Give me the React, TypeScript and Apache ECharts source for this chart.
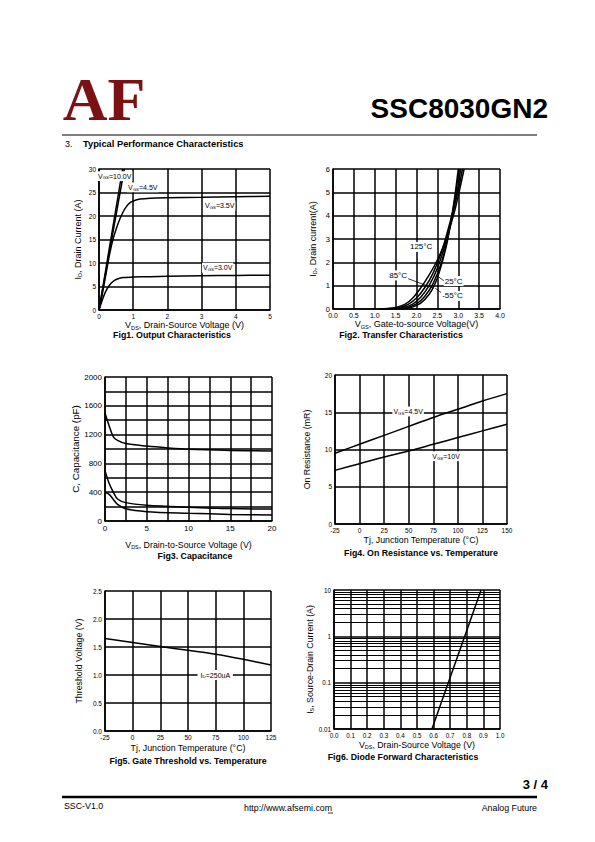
import React, { useEffect, useRef } from "react";
import * as echarts from "echarts";

const FONT = "Liberation Sans";
const BLACK = "#000";

// ---------- Fig1: Output Characteristics (VDS [V], ID [A])
const fig1Vgs100 = [[0, 0], [0.69, 30]];
const fig1Vgs45 = [[0, 0], [0.74, 30]];
const fig1Vgs35 = [[0, 0], [0.1, 3.5], [0.2, 7.5], [0.3, 11.5], [0.4, 14.8], [0.5, 17.2], [0.6, 19.2], [0.7, 20.8], [0.8, 22], [0.9, 22.8], [1.0, 23.2], [1.2, 23.6], [1.5, 23.8], [2, 23.9], [3, 24.0], [4, 24.1], [5, 24.2]];
const fig1Vgs30 = [[0, 0], [0.1, 2.2], [0.2, 4], [0.3, 5.2], [0.4, 6], [0.5, 6.5], [0.7, 6.9], [1, 7.0], [1.5, 7.1], [2, 7.2], [3, 7.3], [4, 7.35], [5, 7.4]];
const fig1Labels = [
  { x: 0.46, y: 28.5, text: "V{s|GS}=10.0V" },
  { x: 1.28, y: 26.1, text: "V{s|GS}=4.5V" },
  { x: 3.53, y: 22.2, text: "V{s|GS}=3.5V" },
  { x: 3.47, y: 9.0, text: "V{s|GS}=3.0V" },
];

// ---------- Fig2: Transfer Characteristics (VGS [V], ID [A])
const fig2T125 = [[1.1, 0], [1.3, 0.02], [1.5, 0.07], [1.72, 0.2], [1.9, 0.45], [2.1, 0.9], [2.3, 1.45], [2.5, 2.1], [2.7, 2.95], [2.9, 4.1], [3.14, 6]];
const fig2T85 = [[1.2, 0], [1.4, 0.02], [1.6, 0.07], [1.8, 0.2], [2.0, 0.47], [2.2, 0.92], [2.4, 1.55], [2.6, 2.45], [2.8, 3.7], [3.0, 5.1], [3.1, 6]];
const fig2T25 = [[1.3, 0], [1.5, 0.02], [1.7, 0.07], [1.9, 0.2], [2.1, 0.5], [2.3, 1.0], [2.5, 1.75], [2.7, 2.85], [2.9, 4.35], [3.06, 6]];
const fig2T0 = [[1.4, 0], [1.6, 0.02], [1.8, 0.07], [2.0, 0.22], [2.2, 0.55], [2.4, 1.1], [2.6, 2.0], [2.8, 3.5], [2.95, 5.1], [3.02, 6]];
const fig2Tm55 = [[1.5, 0], [1.7, 0.02], [1.9, 0.08], [2.1, 0.25], [2.3, 0.62], [2.45, 1.1], [2.6, 1.9], [2.75, 3.0], [2.9, 4.6], [3.0, 6]];
const fig2Labels = [
  { x: 2.11, y: 2.66, text: "125°C" },
  { x: 1.56, y: 1.44, text: "85°C" },
  { x: 2.89, y: 1.2, text: "25°C" },
  { x: 2.86, y: 0.56, text: "-55°C" },
];
const fig2Leaders = [
  [[1.8, 1.3], [2.41, 0.89]],
  [[2.52, 1.39], [2.66, 1.2]],
  [[2.45, 0.89], [2.64, 0.64]],
];

// ---------- Fig3: Capacitance (VDS [V], C [pF])
const fig3Ciss = [[0, 1500], [0.5, 1320], [1, 1170], [1.5, 1120], [2.5, 1075], [5, 1040], [7.5, 1015], [10, 996], [15, 980], [20, 972]];
const fig3Coss = [[0, 700], [0.5, 520], [1, 400], [1.5, 305], [2.5, 255], [5, 220], [10, 192], [15, 172], [20, 165]];
const fig3Crss = [[0, 400], [0.5, 370], [1, 300], [1.5, 230], [2.5, 170], [5, 130], [10, 108], [15, 92], [20, 85]];

// ---------- Fig4: On Resistance vs Temperature (Tj [°C], R [mΩ])
const fig4Vgs45 = [[-25, 9.5], [0, 10.7], [25, 11.9], [50, 13.1], [75, 14.3], [100, 15.4], [125, 16.5], [150, 17.5]];
const fig4Vgs10 = [[-25, 7.2], [0, 8.1], [25, 9.0], [50, 9.8], [75, 10.7], [100, 11.6], [125, 12.5], [150, 13.4]];
const fig4Labels = [
  { x: 49.4, y: 15.1, text: "V{s|GS}=4.5V" },
  { x: 88, y: 9.1, text: "V{s|GS}=10V" },
];

// ---------- Fig5: Gate Threshold vs Temperature (Tj [°C], Vth [V])
const fig5Vth = [[-25, 1.65], [0, 1.58], [25, 1.51], [50, 1.44], [75, 1.37], [100, 1.28], [125, 1.18]];
const fig5Labels = [{ x: 74.6, y: 1.0, text: " I{s|D}=250uA " }];

// ---------- Fig6: Diode Forward Characteristics (VSD [V], IS [A], log)
const fig6Diode = [[0.59, 0.01], [0.886, 10]];
const fig6MinorGrid = [0.02, 0.03, 0.04, 0.05, 0.06, 0.07, 0.08, 0.09, 0.2, 0.3, 0.4, 0.5, 0.6, 0.7, 0.8, 0.9, 2, 3, 4, 5, 6, 7, 8, 9];

// ---------- Layout
const grids = [
  { left: 99, top: 169, width: 171, height: 141 },
  { left: 333, top: 169, width: 167, height: 140 },
  { left: 105, top: 377, width: 167, height: 144 },
  { left: 335, top: 375, width: 172, height: 149 },
  { left: 105, top: 591, width: 166, height: 140 },
  { left: 334, top: 590, width: 166, height: 139 },
];

const subRich = (fs: number) => ({
  s: { fontSize: fs * 0.62, fontFamily: FONT, color: BLACK, padding: [fs * 0.55, 0, 0, 0] },
});

function axis(
  gridIndex: number,
  min: number,
  max: number,
  interval: number,
  labelSize: number,
  name: string,
  nameGap: number,
  nameSize: number,
  formatter?: (v: number) => string,
  extra: any = {}
) {
  return {
    type: "value",
    gridIndex,
    min,
    max,
    interval,
    axisLine: { show: true, onZero: false, lineStyle: { color: BLACK, width: 1.5 } },
    axisTick: { show: false },
    splitLine: { show: true, lineStyle: { color: BLACK, width: 1.5 } },
    axisLabel: {
      color: BLACK,
      fontFamily: FONT,
      fontSize: labelSize,
      margin: 3,
      formatter,
    },
    name,
    nameLocation: "middle",
    nameGap,
    nameTextStyle: { color: BLACK, fontFamily: FONT, fontSize: nameSize, rich: subRich(nameSize) },
    ...extra,
  };
}

function line(xi: number, data: number[][], smooth: number | false = 0.3, extra: any = {}) {
  return {
    type: "line",
    xAxisIndex: xi,
    yAxisIndex: xi,
    data,
    showSymbol: false,
    symbol: "none",
    smooth,
    lineStyle: { color: BLACK, width: 1.5 },
    silent: true,
    ...extra,
  };
}

function labels(items: { x: number; y: number; text: string }[], fs: number) {
  return {
    symbol: "rect",
    symbolSize: 0,
    silent: true,
    label: {
      show: true,
      position: "inside",
      color: BLACK,
      fontFamily: FONT,
      fontSize: fs,
      backgroundColor: "#fff",
      padding: [1, 1],
      rich: subRich(fs),
    },
    data: items.map((it) => ({ coord: [it.x, it.y], value: 0, label: { formatter: it.text } })),
  };
}

const caption = (x: number, y: number, text: string) => ({
  type: "text",
  x,
  y,
  style: { text, font: `bold 8.8px "${FONT}"`, fill: BLACK, align: "center", verticalAlign: "middle" },
});

const plain = (x: number, y: number, text: string, font: string, align = "left") => ({
  type: "text",
  x,
  y,
  style: { text, font, fill: BLACK, align, verticalAlign: "middle" },
});

const fmt1 = (v: number) => v.toFixed(1);

export default function App() {
  const ref = useRef<HTMLDivElement>(null);
  useEffect(() => {
    if (!ref.current) return;
    const chart = echarts.init(ref.current, undefined, { renderer: "svg" });
    const option: any = {
      animation: false,
      backgroundColor: "#fff",
      grid: grids.map((g) => ({ ...g, containLabel: false })),
      xAxis: [
        axis(0, 0, 5, 1, 6.5, "V{s|DS}, Drain-Source Voltage (V)", 9, 9),
        axis(1, 0, 4, 0.5, 7, "V{s|GS}, Gate-to-source Voltage(V)", 9, 9, fmt1),
        axis(2, 0, 20, 2.5, 8, "V{s|DS}, Drain-to-Source Voltage (V)", 19, 8.8, (v) => (v % 5 === 0 ? String(v) : "")),
        axis(3, -25, 150, 25, 6.5, "Tj, Junction Temperature (°C)", 11, 8.8),
        axis(4, -25, 125, 25, 6.5, "Tj, Junction Temperature (°C)", 12, 8.8),
        axis(5, 0, 1, 0.1, 6.3, "V{s|DS}, Drain-Source Voltage (V)", 11, 8.8, fmt1),
      ],
      yAxis: [
        axis(0, 0, 30, 5, 6.5, "I{s|D}, Drain Current (A)", 16, 9),
        axis(1, 0, 6, 1, 7.5, "I{s|D}, Drain current(A)", 15, 9),
        axis(2, 0, 2000, 200, 8, "C, Capacitance (pF)", 22, 9.8, (v) => (v % 400 === 0 ? String(v) : "")),
        axis(3, 0, 20, 5, 6.5, "On Resistance (mR)", 24, 8.8),
        axis(4, 0, 2.5, 0.5, 6.5, "Threshold Voltage (V)", 22, 8.8, fmt1),
        {
          ...axis(5, 0.01, 10, 1, 6.3, "I{s|S}, Source-Drain Current (A)", 16, 8.8, (v) => String(Number(v.toPrecision(2)))),
          type: "log",
          logBase: 10,
          interval: undefined,
        },
      ],
      series: [
        line(0, fig1Vgs100, false),
        line(0, fig1Vgs45, false),
        line(0, fig1Vgs35, 0.3),
        line(0, fig1Vgs30, 0.3, { markPoint: labels(fig1Labels, 7) }),

        line(1, fig2T125, 0.3),
        line(1, fig2T85, 0.3),
        line(1, fig2T25, 0.3),
        line(1, fig2T0, 0.3),
        line(1, fig2Tm55, 0.3, {
          markPoint: labels(fig2Labels, 8),
          markLine: {
            silent: true,
            symbol: ["none", "none"],
            label: { show: false },
            lineStyle: { color: BLACK, width: 0.8, type: "solid" },
            data: fig2Leaders.map((l) => [{ coord: l[0] }, { coord: l[1] }]),
          },
        }),

        line(2, fig3Ciss, 0.3),
        line(2, fig3Coss, 0.3),
        line(2, fig3Crss, 0.3),

        line(3, fig4Vgs45, 0.3),
        line(3, fig4Vgs10, 0.3, { markPoint: labels(fig4Labels, 7) }),

        line(4, fig5Vth, 0.3, { markPoint: labels(fig5Labels, 7) }),

        line(5, fig6Diode, false, {
          markLine: {
            silent: true,
            symbol: ["none", "none"],
            label: { show: false },
            lineStyle: { color: BLACK, width: 1, type: "solid" },
            data: fig6MinorGrid.map((v) => ({ yAxis: v })),
          },
        }),
      ],
      graphic: [
        // logo
        {
          type: "text",
          x: 104,
          y: 99,
          style: {
            text: "AF",
            font: 'bold 62px "Liberation Serif"',
            fill: "#7a1214",
            align: "center",
            verticalAlign: "middle",
            textShadowColor: "#9a9a9a",
            textShadowOffsetX: 3,
            textShadowOffsetY: 2,
            textShadowBlur: 0,
          },
        },
        plain(548, 108, "SSC8030GN2", `bold 28px "${FONT}"`, "right"),
        { type: "line", shape: { x1: 62, y1: 135, x2: 537, y2: 135 }, style: { stroke: BLACK, lineWidth: 1 } },
        plain(65, 143.5, "3.", `9px "${FONT}"`),
        plain(83, 143.5, "Typical Performance Characteristics", `bold 9.3px "${FONT}"`),

        caption(172, 335, "Fig1. Output Characteristics"),
        caption(401, 335, "Fig2. Transfer Characteristics"),
        caption(195, 556, "Fig3. Capacitance"),
        caption(421, 553, "Fig4. On Resistance vs. Temperature"),
        caption(188, 761, "Fig5. Gate Threshold vs. Temperature"),
        caption(403, 757, "Fig6. Diode Forward Characteristics"),

        // footer
        plain(548, 784, "3 / 4", `bold 13px "${FONT}"`, "right"),
        { type: "line", shape: { x1: 62, y1: 797, x2: 537, y2: 797 }, style: { stroke: BLACK, lineWidth: 2.5 } },
        plain(64, 806, "SSC-V1.0", `8.8px "${FONT}"`),
        plain(244, 808, "http://www.afsemi.com", `8.8px "${FONT}"`),
        { type: "line", shape: { x1: 328, y1: 813, x2: 333, y2: 813 }, style: { stroke: BLACK, lineWidth: 0.8 } },
        plain(537, 808, "Analog Future", `8.8px "${FONT}"`, "right"),
      ],
    };
    chart.setOption(option);
    return () => chart.dispose();
  }, []);
  return (
    <div
      ref={ref}
      style={{ position: "absolute", left: 0, top: 0, width: 595, height: 842, background: "#fff" }}
    />
  );
}
